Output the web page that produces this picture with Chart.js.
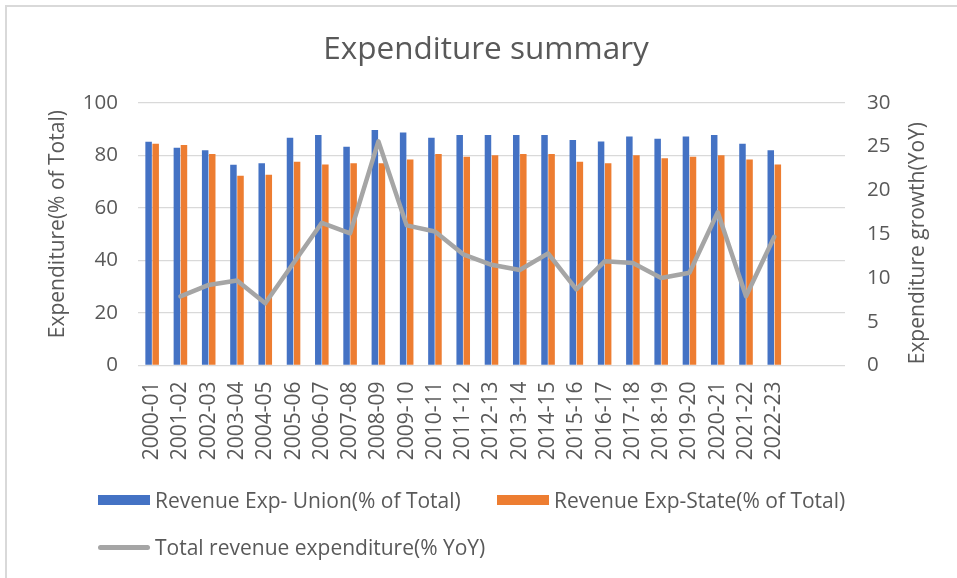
<!DOCTYPE html>
<html>
<head>
<meta charset="utf-8">
<script src="https://cdn.jsdelivr.net/npm/chart.js@4"></script>
<style>
  html, body { margin: 0; padding: 0; background: #fff; }
  #wrap { position: relative; width: 957px; height: 578px; overflow: hidden; }
  #frame { position: absolute; left: 5px; top: 5px; width: 1000px; height: 1000px;
           border-left: 2px solid #d9d9d9; border-top: 2px solid #d9d9d9; }
  canvas { position: absolute; left: 0; top: 0; }
  .legend { position: absolute; font-family: "Open Sans", sans-serif; font-size: 21px; color: #595959; white-space: nowrap; }
</style>
</head>
<body>
<div id="wrap">
  <div id="frame"></div>
  <canvas id="chart" width="957" height="578"></canvas>
  <div id="legend"></div>
</div>
<script>
// Chart data
const categories = ['2000-01', '2001-02', '2002-03', '2003-04', '2004-05', '2005-06', '2006-07', '2007-08',
    '2008-09', '2009-10', '2010-11', '2011-12', '2012-13', '2013-14', '2014-15', '2015-16', '2016-17',
    '2017-18', '2018-19', '2019-20', '2020-21', '2021-22', '2022-23', '', ''];
const unionShare = [85.2, 82.9, 81.9, 76.4, 77.0, 86.7, 87.7, 83.3, 89.6, 88.7, 86.7, 87.7, 87.7, 87.7, 87.7,
    85.8, 85.3, 87.2, 86.3, 87.2, 87.7, 84.4, 81.9];
const stateShare = [84.4, 83.9, 80.5, 72.2, 72.6, 77.6, 76.5, 77.0, 77.0, 78.4, 80.5, 79.5, 80.0, 80.5, 80.5,
    77.6, 77.0, 80.0, 78.9, 79.5, 80.0, 78.4, 76.5];
const totalGrowth = [null, 7.9, 9.2, 9.7, 7.1, 11.7, 16.3, 15.1, 25.6, 16.0, 15.3, 12.7, 11.5, 10.9, 12.8,
    8.7, 11.9, 11.7, 10.0, 10.6, 17.5, 7.9, 14.7];
const seriesNames = ['Revenue Exp- Union(% of Total)', 'Revenue Exp-State(% of Total)', 'Total revenue expenditure(% YoY)'];
const axisTitles = ['Expenditure(% of Total)', 'Expenditure growth(YoY)'];

const textColor = '#595959';
const font = 'Open Sans';

// Both axis titles read bottom-to-top, like the original
const axisTitlePlugin = {
    id: 'axisTitles',
    afterDraw(chart) {
        const c = chart.ctx;
        const area = chart.chartArea;
        const mid = (area.top + area.bottom) / 2;
        const spots = [
            { text: axisTitles[0], x: 58, y: mid - 10 },
            { text: axisTitles[1], x: 918, y: mid + 9 }
        ];
        c.save();
        c.fillStyle = textColor;
        c.font = '21px "' + font + '"';
        c.textAlign = 'center';
        c.textBaseline = 'middle';
        spots.forEach(s => {
            c.save();
            c.translate(s.x, s.y);
            c.rotate(-Math.PI / 2);
            c.fillText(s.text, 0, 0);
            c.restore();
        });
        c.restore();
    }
};

const ctx = document.getElementById('chart').getContext('2d');
new Chart(ctx, {
    type: 'bar',
    data: {
        labels: categories,
        datasets: [
            {
                label: seriesNames[0], data: unionShare, backgroundColor: '#4472c4',
                categoryPercentage: 0.5, barPercentage: 0.92, yAxisID: 'y', order: 1
            },
            {
                label: seriesNames[1], data: stateShare, backgroundColor: '#ed7d31',
                categoryPercentage: 0.5, barPercentage: 0.92, yAxisID: 'y', order: 1
            },
            {
                type: 'line', label: seriesNames[2], data: totalGrowth, borderColor: '#a5a5a5',
                borderWidth: 4.5, pointRadius: 0, tension: 0, yAxisID: 'y1', order: 0,
                borderJoinStyle: 'round', borderCapStyle: 'round'
            }
        ]
    },
    plugins: [axisTitlePlugin],
    options: {
        responsive: false,
        animation: false,
        layout: { padding: { left: 15, right: 0, top: 0, bottom: 0 } },
        plugins: {
            legend: { display: false },
            tooltip: { enabled: false },
            title: {
                display: true, text: 'Expenditure summary', color: textColor,
                font: { family: font, size: 31.5, weight: 'normal' },
                padding: { top: 31, bottom: 34 }
            }
        },
        scales: {
            x: {
                grid: { display: false },
                border: { display: false },
                ticks: {
                    color: textColor, font: { family: font, size: 21 },
                    minRotation: 90, maxRotation: 90, autoSkip: false, padding: 8
                },
                afterFit: s => { s.height = 212.5; }
            },
            y: {
                position: 'left', min: 0, max: 100,
                grid: { color: '#d9d9d9', lineWidth: 1.3, drawTicks: false },
                border: { display: false },
                ticks: { stepSize: 20, color: textColor, font: { family: font, size: 20.5 }, padding: 20 },
                afterFit: s => { s.width = 123; }
            },
            y1: {
                position: 'right', min: 0, max: 30,
                grid: { display: false, drawTicks: false },
                border: { display: false },
                ticks: { stepSize: 5, color: textColor, font: { family: font, size: 20.5 }, padding: 22 },
                afterFit: s => { s.width = 112; }
            }
        }
    }
});

// Legend laid out as in the original (two rows, left aligned)
const legendItems = [
    { name: seriesNames[0], color: '#4472c4', x: 98, y: 500, kind: 'box' },
    { name: seriesNames[1], color: '#ed7d31', x: 497, y: 500, kind: 'box' },
    { name: seriesNames[2], color: '#a5a5a5', x: 98, y: 547, kind: 'line' }
];
const legendDiv = document.getElementById('legend');
legendItems.forEach(item => {
    const mark = document.createElement('div');
    mark.style.position = 'absolute';
    mark.style.left = item.x + 'px';
    mark.style.width = '52px';
    mark.style.background = item.color;
    if (item.kind === 'box') {
        mark.style.top = (item.y - 5) + 'px';
        mark.style.height = '10px';
    } else {
        mark.style.top = (item.y - 2.5) + 'px';
        mark.style.height = '5px';
        mark.style.borderRadius = '3px';
    }
    legendDiv.appendChild(mark);
    const label = document.createElement('div');
    label.className = 'legend';
    label.style.left = (item.x + 57) + 'px';
    label.style.top = (item.y - 15) + 'px';
    label.style.lineHeight = '30px';
    label.textContent = item.name;
    legendDiv.appendChild(label);
});
</script>
</body>
</html>
